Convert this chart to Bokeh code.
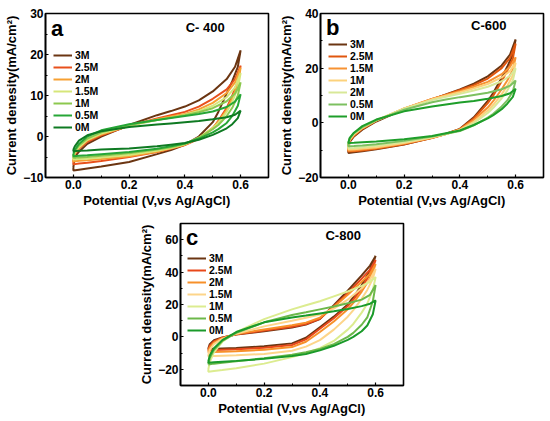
from bokeh.plotting import figure
from bokeh.models import Label, Legend, LegendItem, Spacer, FixedTicker, NumeralTickFormatter
from bokeh.layouts import column, row
from bokeh.embed import file_html
from bokeh.resources import INLINE

# potential grids (V vs Ag/AgCl): anodic sweep and cathodic sweep
V_UP = [0, 0.005, 0.02, 0.05, 0.1, 0.2, 0.3, 0.35, 0.4, 0.45, 0.5, 0.55, 0.58, 0.6]
V_LO = [0.6, 0.59, 0.57, 0.55, 0.52, 0.5, 0.45, 0.4, 0.35, 0.3, 0.2, 0.1, 0.05, 0.02, 0]

# ---- panel a : C-400 ----
A_LABELS = ["3M", "2.5M", "2M", "1.5M", "1M", "0.5M", "0M"]
A_COLORS = ["#6b3512", "#e8501c", "#f7a032", "#d6e67a", "#8cc84e", "#26a636", "#0e7a22"]
A_UP = [
    [-7.5, -5.0, -3.7, -1.8, 0.0, 2.8, 5.2, 6.2, 7.3, 8.8, 11.0, 14.0, 17.0, 21.0],
    [-6.0, -4.3, -3.0, -1.3, 0.3, 2.6, 4.4, 5.2, 6.0, 7.3, 9.2, 11.5, 14.0, 17.3],
    [-5.4, -4.1, -2.8, -1.0, 0.5, 2.6, 4.2, 4.9, 5.5, 6.6, 8.2, 10.6, 13.2, 16.8],
    [-5.0, -4.0, -2.6, -0.8, 0.7, 2.6, 4.0, 4.6, 5.3, 6.2, 7.5, 9.6, 12.0, 15.5],
    [-4.6, -3.6, -2.2, -0.5, 1.0, 2.8, 4.0, 4.6, 5.2, 5.9, 6.9, 8.6, 10.5, 13.2],
    [-4.2, -3.3, -1.8, 0.0, 1.5, 3.0, 4.0, 4.5, 5.0, 5.5, 6.1, 7.2, 8.5, 10.3],
    [-3.2, -2.4, -1.0, 0.3, 1.3, 2.3, 2.9, 3.2, 3.5, 3.8, 4.2, 4.7, 5.3, 6.3],
]
A_LO = [
    [21.0, 17.0, 13.5, 10.5, 6.0, 3.5, 0.0, -2.0, -3.3, -4.3, -6.2, -7.3, -7.8, -8.1, -8.3],
    [17.3, 13.5, 10.0, 7.0, 3.8, 2.0, -0.6, -2.1, -3.0, -3.8, -5.0, -6.0, -6.4, -6.6, -6.8],
    [16.8, 12.8, 9.3, 6.5, 3.6, 2.1, -0.4, -2.0, -2.9, -3.7, -4.8, -5.5, -5.8, -5.9, -6.1],
    [15.5, 11.8, 8.5, 6.0, 3.3, 2.0, -0.3, -1.9, -2.8, -3.5, -4.5, -5.1, -5.4, -5.5, -5.6],
    [13.2, 10.0, 7.0, 5.0, 2.8, 1.8, -0.3, -1.8, -2.6, -3.2, -4.1, -4.7, -5.0, -5.1, -5.2],
    [10.3, 7.5, 5.0, 3.3, 1.8, 1.0, -0.5, -1.7, -2.4, -3.0, -3.8, -4.3, -4.6, -4.7, -4.8],
    [6.3, 4.5, 3.0, 2.0, 1.0, 0.4, -0.8, -1.6, -2.0, -2.4, -2.9, -3.2, -3.4, -3.5, -3.6],
]
A_YTICKS = [-10, 0, 10, 20, 30]

# ---- panel b : C-600 ----
B_LABELS = ["3M", "2.5M", "1.5M", "1M", "2M", "0.5M", "0M"]
B_COLORS = ["#6b3512", "#e0560e", "#f79233", "#fcd27c", "#d8e898", "#7cc060", "#1e9e2a"]
B_UP = [
    [-9.0, -7.0, -5.0, -2.5, 0.5, 5.0, 8.6, 10.4, 12.2, 14.3, 17.0, 21.0, 25.0, 30.5],
    [-8.5, -6.6, -4.7, -2.2, 0.7, 5.2, 8.7, 10.3, 12.0, 13.8, 16.2, 20.0, 23.8, 29.0],
    [-8.2, -6.3, -4.4, -2.0, 0.8, 5.3, 8.7, 10.2, 11.6, 13.2, 15.0, 17.8, 20.5, 24.0],
    [-7.8, -6.0, -4.2, -1.8, 0.9, 5.3, 8.6, 9.9, 11.2, 12.6, 14.2, 16.6, 19.0, 22.0],
    [-7.5, -5.8, -4.0, -1.7, 1.0, 5.2, 8.3, 9.5, 10.6, 11.8, 13.2, 15.2, 17.2, 20.0],
    [-7.3, -5.6, -3.8, -1.6, 0.9, 4.8, 7.5, 8.5, 9.4, 10.2, 11.0, 12.3, 13.6, 15.5],
    [-7.2, -5.5, -3.6, -1.2, 1.2, 4.2, 6.0, 6.7, 7.4, 8.0, 8.8, 9.8, 10.8, 12.5],
]
B_LO = [
    [30.5, 25.0, 20.5, 16.5, 11.0, 8.0, 2.0, -2.2, -4.0, -5.5, -7.9, -9.7, -10.4, -10.8, -11.0],
    [29.0, 23.5, 19.0, 15.2, 10.0, 7.2, 1.6, -2.3, -4.1, -5.6, -7.8, -9.5, -10.1, -10.4, -10.5],
    [24.0, 19.3, 15.5, 12.3, 8.0, 5.6, 1.0, -2.4, -4.1, -5.5, -7.6, -9.2, -9.8, -10.1, -10.2],
    [22.0, 17.3, 13.5, 10.5, 6.6, 4.5, 0.4, -2.6, -4.1, -5.4, -7.4, -8.9, -9.4, -9.7, -9.8],
    [20.0, 15.5, 11.8, 9.0, 5.5, 3.6, -0.1, -2.8, -4.1, -5.2, -7.0, -8.4, -8.9, -9.2, -9.3],
    [15.5, 11.5, 8.2, 6.0, 3.3, 1.9, -0.9, -3.0, -4.0, -5.0, -6.6, -7.8, -8.3, -8.5, -8.6],
    [12.5, 9.5, 7.0, 5.0, 2.8, 1.6, -0.8, -2.8, -3.8, -4.8, -6.0, -6.8, -7.1, -7.3, -7.4],
]
B_YTICKS = [-20, 0, 20, 40]

# ---- panel c : C-800 ----
C_LABELS = ["3M", "2.5M", "2M", "1.5M", "1M", "0.5M", "0M"]
C_COLORS = ["#6b3512", "#e8481a", "#f7902a", "#fdd58a", "#dcec90", "#6cb84a", "#1a9a2a"]
C_UP = [
    [-7.0, -4.5, -2.0, -0.3, 1.5, 3.5, 5.8, 7.6, 11.0, 19.5, 28.5, 38.0, 44.0, 50.0],
    [-8.0, -5.5, -2.8, -0.5, 1.6, 3.9, 6.3, 8.0, 11.2, 19.0, 27.0, 36.0, 41.5, 47.5],
    [-9.0, -6.5, -3.5, -0.8, 1.8, 4.6, 7.2, 8.8, 11.8, 18.5, 26.0, 34.0, 39.0, 45.0],
    [-11.0, -8.0, -4.5, -1.2, 2.0, 6.5, 10.0, 11.8, 13.8, 17.5, 23.0, 30.0, 35.5, 42.0],
    [-20.0, -15.5, -9.5, -3.0, 3.0, 11.0, 17.0, 19.5, 22.0, 25.0, 28.0, 31.5, 34.0, 37.0],
    [-17.0, -13.0, -8.0, -2.5, 2.5, 9.0, 13.5, 15.2, 17.0, 18.8, 20.8, 23.0, 26.0, 32.0],
    [-15.0, -11.5, -7.0, -2.0, 3.0, 9.0, 12.0, 13.2, 14.5, 15.8, 17.2, 19.0, 20.5, 22.5],
]
C_LO = [
    [50.0, 45.0, 38.0, 32.0, 24.5, 20.0, 12.5, 6.0, -0.5, -4.0, -5.8, -6.8, -7.1, -7.3, -7.5],
    [47.5, 42.5, 36.0, 30.0, 23.0, 19.0, 11.5, 5.0, -1.5, -5.0, -6.7, -7.6, -7.9, -8.1, -8.3],
    [45.0, 40.0, 33.5, 28.0, 21.0, 17.0, 9.5, 3.0, -3.0, -6.3, -8.0, -8.8, -9.1, -9.3, -9.5],
    [42.0, 36.0, 29.0, 23.5, 16.5, 12.5, 4.5, -2.0, -6.0, -8.5, -10.5, -11.3, -11.6, -11.8, -12.0],
    [37.0, 29.0, 20.5, 15.0, 8.0, 4.5, -2.5, -7.0, -10.0, -12.5, -16.5, -19.3, -20.5, -21.0, -21.5],
    [32.0, 22.0, 12.0, 7.5, 2.5, 0.0, -4.5, -7.5, -9.5, -11.0, -13.2, -15.0, -16.0, -16.5, -17.0],
    [22.5, 14.0, 7.0, 3.5, 0.0, -1.8, -5.5, -8.3, -10.5, -11.8, -13.5, -14.8, -15.3, -15.7, -16.0],
]
C_YTICKS = [-20, 0, 20, 40, 60]

X_TICKS = [0.0, 0.2, 0.4, 0.6]
X_LABEL = "Potential (V,vs Ag/AgCl)"
Y_LABEL = "Current denesity(mA/cm\u00b2)"

FONT = "Liberation Sans"


def make_panel(fw, fh, bl, br, bt, bb, yr, yticks, yminor, labels, colors, ups, los,
               letter, letter_xy, title, title_xy, leg_loc):
    p = figure(frame_width=fw, frame_height=fh, x_range=(-0.1, 0.7), y_range=yr,
               output_backend="svg", toolbar_location=None,
               min_border_left=bl, min_border_right=br,
               min_border_top=bt, min_border_bottom=bb)
    p.grid.visible = False
    p.outline_line_color = "black"
    p.outline_line_width = 1.6
    p.background_fill_color = "white"
    p.border_fill_color = "white"

    p.xaxis.ticker = FixedTicker(ticks=X_TICKS, minor_ticks=[0.1, 0.3, 0.5])
    p.xaxis.formatter = NumeralTickFormatter(format="0.0")
    p.yaxis.ticker = FixedTicker(ticks=yticks, minor_ticks=yminor)
    for ax in (p.xaxis[0], p.yaxis[0]):
        ax.axis_line_width = 1.6
        ax.axis_line_color = "black"
        ax.major_tick_in = 3
        ax.major_tick_out = 0
        ax.minor_tick_in = 2
        ax.minor_tick_out = 0
        ax.major_tick_line_width = 1.2
        ax.major_tick_line_color = "black"
        ax.minor_tick_line_color = "black"
        ax.major_label_text_font = FONT
        ax.major_label_text_font_style = "bold"
        ax.major_label_text_font_size = "12px"
        ax.major_label_text_color = "black"
        ax.axis_label_text_font = FONT
        ax.axis_label_text_font_style = "bold"
        ax.axis_label_text_font_size = "13px"
        ax.axis_label_text_color = "black"
        ax.major_label_standoff = 2
        ax.axis_label_standoff = 1
    p.xaxis.axis_label = X_LABEL
    p.yaxis.axis_label = Y_LABEL

    items = []
    for lab, col, up, lo in zip(labels, colors, ups, los):
        xs = V_UP + V_LO + [V_UP[0]]
        ys = up + lo + [up[0]]
        r = p.line(xs, ys, line_color=col, line_width=2)
        items.append(LegendItem(label=lab, renderers=[r]))

    leg = Legend(items=items, location=leg_loc, glyph_width=19, glyph_height=10,
                 label_height=10, spacing=0, padding=0, margin=0, label_standoff=3,
                 label_text_font=FONT, label_text_font_style="bold",
                 label_text_font_size="10.5px", label_text_color="black",
                 border_line_alpha=0, background_fill_alpha=0)
    p.add_layout(leg, "center")

    p.add_layout(Label(x=letter_xy[0], y=letter_xy[1], text=letter, text_font=FONT,
                       text_font_style="bold", text_font_size="22px",
                       text_color="black", text_baseline="middle"))
    p.add_layout(Label(x=title_xy[0], y=title_xy[1], text=title, text_font=FONT,
                       text_font_style="bold", text_font_size="13px",
                       text_color="black", text_baseline="middle"))
    return p


pa = make_panel(223, 164, 45, 7, 13, 33, (-10, 30), A_YTICKS, [-5, 5, 15, 25],
                A_LABELS, A_COLORS, A_UP, A_LO,
                "a", (-0.08, 26.3), "C- 400", (0.403, 26.5), (8, 44))
pb = make_panel(223, 164, 45, 7, 13, 33, (-20, 40), B_YTICKS, [-10, 10, 30],
                B_LABELS, B_COLORS, B_UP, B_LO,
                "b", (-0.08, 34.9), "C-600", (0.44, 35.5), (8, 55))
pc = make_panel(223, 162, 50, 10, 13, 35, (-30, 70), C_YTICKS, [-10, 10, 30, 50],
                C_LABELS, C_COLORS, C_UP, C_LO,
                "c", (-0.08, 61.4), "C-800", (0.42, 62.4), (7, 49))

layout = column(row(pa, pb), row(Spacer(width=130, height=10), pc))

with open("out.html", "w") as f:
    f.write(file_html(layout, INLINE))
